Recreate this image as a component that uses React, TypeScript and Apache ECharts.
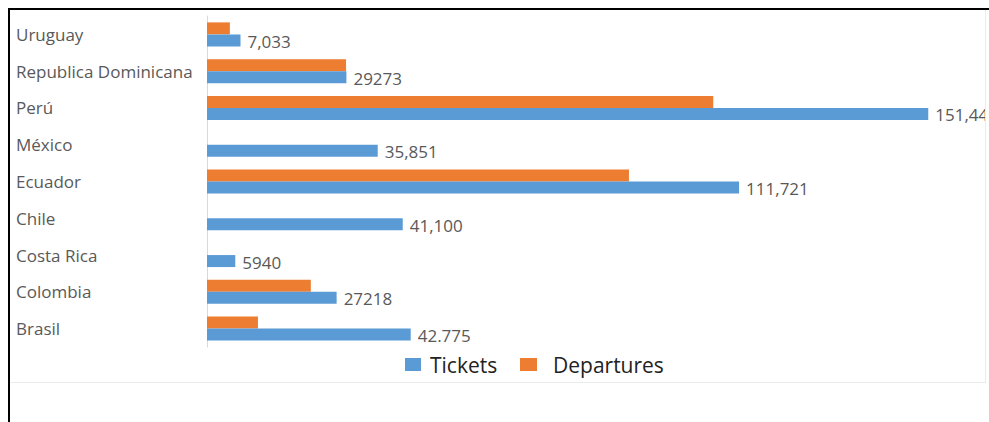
import React, { useEffect, useRef } from 'react';
import * as echarts from 'echarts';

const categories = ['Brasil', 'Colombia', 'Costa Rica', 'Chile', 'Ecuador', 'México', 'Perú', 'Republica Dominicana', 'Uruguay'];
const tickets = [42775, 27218, 5940, 41100, 111721, 35851, 151446, 29273, 7033];
const ticketLabels = ['42.775', '27218', '5940', '41,100', '111,721', '35,851', '151,446', '29273', '7,033'];
const departures: (number | null)[] = [10700, 21800, null, null, 88600, null, 106300, 29200, 4800];

const FONT = '"Open Sans", "Noto Sans", sans-serif';

export default function App() {
  const ref = useRef<HTMLDivElement>(null);
  useEffect(() => {
    if (!ref.current) return;
    const chart = echarts.init(ref.current, undefined, { renderer: 'svg' });
    chart.setOption({
      animation: false,
      textStyle: { fontFamily: FONT },
      grid: { left: 197, top: 6, width: 762, height: 331, containLabel: false },
      legend: [
        {
          data: ['Tickets'],
          left: 395,
          top: 344,
          padding: 0,
          icon: 'rect',
          itemWidth: 16,
          itemHeight: 13,
          textStyle: { fontSize: 21, color: '#222222', fontFamily: FONT, padding: [0, 0, 0, 4] },
        },
        {
          data: ['Departures'],
          left: 510,
          top: 344,
          padding: 0,
          icon: 'rect',
          itemWidth: 17,
          itemHeight: 13,
          textStyle: { fontSize: 21, color: '#222222', fontFamily: FONT, padding: [0, 0, 0, 11] },
        },
      ],
      xAxis: {
        type: 'value',
        min: 0,
        max: 160000,
        show: false,
        splitLine: { show: false },
      },
      yAxis: {
        type: 'category',
        data: categories,
        axisLine: { show: true, lineStyle: { color: '#d9d9d9', width: 1 } },
        axisTick: { show: false },
        axisLabel: {
          align: 'left',
          margin: 191,
          fontSize: 17,
          color: '#595959',
          fontFamily: FONT,
        },
      },
      series: [
        {
          name: 'Departures',
          type: 'bar',
          data: departures,
          barWidth: 12,
          barGap: '0%',
          itemStyle: { color: '#ed7d31' },
        },
        {
          name: 'Tickets',
          type: 'bar',
          data: tickets,
          barWidth: 12,
          barGap: '0%',
          itemStyle: { color: '#5b9bd5' },
          label: {
            show: true,
            position: 'right',
            distance: 7,
            offset: [0, 1],
            fontSize: 17,
            color: '#595959',
            fontFamily: FONT,
            formatter: (p: any) => ticketLabels[p.dataIndex],
          },
        },
      ],
    });
    return () => chart.dispose();
  }, []);

  return (
    <div
      style={{
        position: 'absolute',
        left: 8,
        top: 8,
        width: 981,
        height: 414,
        borderTop: '2px solid #000',
        borderLeft: '2px solid #000',
        boxSizing: 'border-box',
        background: '#fff',
      }}
    >
      <div
        style={{
          width: 975,
          height: 372,
          borderRight: '1px solid #ebebeb',
          borderBottom: '1px solid #ebebeb',
          overflow: 'hidden',
        }}
      >
        <div ref={ref} style={{ width: 975, height: 372 }} />
      </div>
    </div>
  );
}
